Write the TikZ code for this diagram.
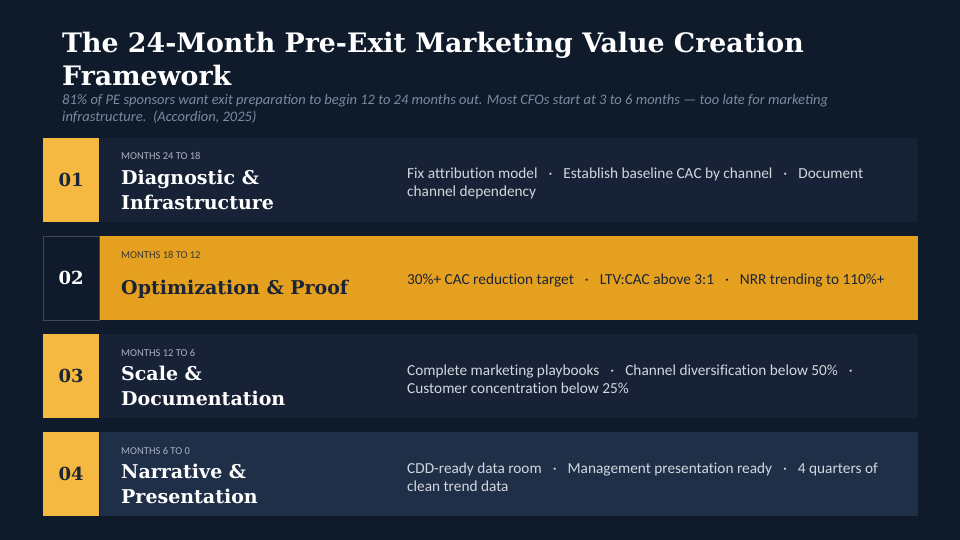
\documentclass[tikz,border=0pt]{standalone}
\usepackage{fontspec}
\setmainfont{Carlito}
\newfontfamily\headfont{DejaVu Serif}

\definecolor{pageBg}{RGB}{15,27,43}
\definecolor{rowDark}{RGB}{23,34,54}
\definecolor{rowLight}{RGB}{31,47,72}
\definecolor{gold}{RGB}{245,184,65}
\definecolor{amber}{RGB}{230,160,32}
\definecolor{ink}{RGB}{26,36,53}
\definecolor{greyText}{RGB}{168,178,192}
\definecolor{bodyText}{RGB}{210,215,222}
\definecolor{noteText}{RGB}{122,138,160}

\newcommand{\dotsep}{\hspace{0.72em}·\hspace{0.72em}}

\begin{document}
\begin{tikzpicture}[x=1pt,y=-1pt]
    \tikzset{panel/.style={%
      rectangle,%
      anchor=west,%
      inner sep=0pt,%
      minimum height=84pt}%
    };
\tikzset{numbox/.style={panel, minimum width=56pt}};
\tikzset{rowbox/.style={panel, minimum width=818pt}};
\tikzset{numtext/.style={inner sep=0pt, font=\headfont\bfseries\fontsize{18}{20}\selectfont}};
\tikzset{months/.style={anchor=base west, inner sep=0pt, font=\fontsize{10.5}{12}\selectfont}};
\tikzset{phase/.style={anchor=base west, inner sep=0pt, align=left, font=\headfont\bfseries\fontsize{19}{25}\selectfont}};
\tikzset{detail/.style={anchor=west, inner sep=0pt, align=left, text=bodyText, font=\addfontfeatures{Ligatures=NoCommon}\fontsize{15.3}{18}\selectfont}};

%page background
\fill[pageBg] (0,0) rectangle (960,540);
\useasboundingbox (0,0) rectangle (960,540);

%heading (base anchor sits on the last line)
\node[anchor=base west, inner sep=0pt, align=left, text=white,
  font=\headfont\bfseries\fontsize{26.8}{33}\selectfont] (title) at (62,86)
  {The 24-Month Pre-Exit Marketing Value Creation\\Framework};
\node[anchor=base west, inner sep=0pt, align=left, text=noteText,
  font=\itshape\fontsize{14.5}{17}\selectfont] (subtitle) at (62,122)
  {81\% of PE sponsors want exit preparation to begin 12 to 24 months out. Most CFOs start at 3 to 6 months — too late for marketing\\infrastructure.\ \ (Accordion, 2025)};

%phase 01
\node[numbox, fill=gold] (num1) at (43,180) {};
\node[rowbox, fill=rowDark] (row1) at (num1.east) {};
\node[numtext, text=ink] (n1) at (num1.center) {01};
\node[months, text=greyText] (m1) at (121,160) {MONTHS 24 TO 18};
\node[phase, text=white] (p1) at (121,209) {Diagnostic \&\\Infrastructure};
\node[detail] (d1) at (407,183) {Fix attribution model\dotsep Establish baseline CAC by channel\dotsep Document\\channel dependency};

%phase 02
\node[numbox, fill=pageBg, draw=white!20!pageBg] (num2) at (43,278) {};
\node[rowbox, fill=amber] (row2) at (num2.east) {};
\node[numtext, text=white] (n2) at (num2.center) {02};
\node[months, text=ink!85!amber] (m2) at (121,258) {MONTHS 18 TO 12};
\node[phase, text=ink] (p2) at (121,294) {Optimization \& Proof};
\node[detail, text=ink] (d2) at (407,281) {30\%+ CAC reduction target\dotsep LTV:CAC above 3:1\dotsep NRR trending to 110\%+};

%phase 03
\node[numbox, fill=gold] (num3) at (43,376) {};
\node[rowbox, fill=rowDark] (row3) at (num3.east) {};
\node[numtext, text=ink] (n3) at (num3.center) {03};
\node[months, text=greyText] (m3) at (121,356) {MONTHS 12 TO 6};
\node[phase, text=white] (p3) at (121,405) {Scale \&\\Documentation};
\node[detail] (d3) at (407,379) {Complete marketing playbooks\dotsep Channel diversification below 50\%\dotsep\\Customer concentration below 25\%};

%phase 04
\node[numbox, fill=gold] (num4) at (43,474) {};
\node[rowbox, fill=rowLight] (row4) at (num4.east) {};
\node[numtext, text=ink] (n4) at (num4.center) {04};
\node[months, text=greyText] (m4) at (121,454) {MONTHS 6 TO 0};
\node[phase, text=white] (p4) at (121,503) {Narrative \&\\Presentation};
\node[detail] (d4) at (407,477) {CDD-ready data room\dotsep Management presentation ready\dotsep 4 quarters of\\clean trend data};

\end{tikzpicture}
\end{document}
